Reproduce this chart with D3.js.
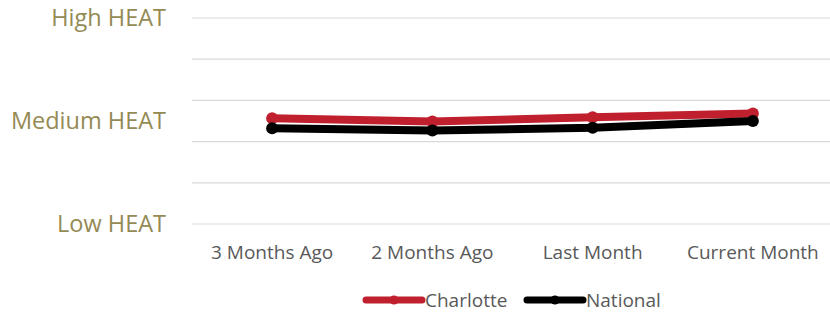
<!DOCTYPE html>
<meta charset="utf-8">
<style>
body { margin: 0; background: #fff; }
text { font-family: "Open Sans", sans-serif; }
.ylab { fill: #948a54; font-size: 23.5px; }
.xlab { fill: #595959; font-size: 19px; }
.leg { fill: #595959; font-size: 19px; }
</style>
<body>
<script src="https://d3js.org/d3.v7.min.js"></script>
<script>
var months = ["3 Months Ago", "2 Months Ago", "Last Month", "Current Month"];
var charlotte = [51.3, 49.8, 51.8, 53.7];
var national = [46.5, 45.4, 46.7, 50.0];
var gridTicks = [0, 20, 40, 60, 80, 100];
var heatTicks = [0, 50, 100];
var heatLabels = ["Low HEAT", "Medium HEAT", "High HEAT"];

var series = [
  {name: "Charlotte", values: charlotte, color: "#c0202e"},
  {name: "National", values: national, color: "#000000"}
];

var svg = d3.select("body").append("svg").attr("width", 830).attr("height", 312);

var x = d3.scaleBand().domain(months).range([192, 833]);
var y = d3.scaleLinear().domain([0, 100]).range([224, 18]);

svg.append("g").selectAll("line").data(gridTicks).enter().append("line")
  .attr("x1", 192).attr("x2", 830)
  .attr("y1", d => y(d)).attr("y2", d => y(d))
  .attr("stroke", "#d9d9d9").attr("stroke-width", 1.2);

svg.append("g").selectAll("text").data(heatTicks).enter().append("text")
  .attr("class", "ylab")
  .attr("x", 166).attr("y", d => y(d))
  .attr("dy", "0.35em").attr("text-anchor", "end")
  .text((d, i) => heatLabels[i]);

svg.append("g").selectAll("text").data(months).enter().append("text")
  .attr("class", "xlab")
  .attr("x", d => x(d) + x.bandwidth() / 2).attr("y", 252)
  .attr("dy", "0.35em").attr("text-anchor", "middle")
  .text(d => d);

var line = d3.line()
  .x((d, i) => x(months[i]) + x.bandwidth() / 2)
  .y(d => y(d));

series.forEach(function(s) {
  var g = svg.append("g");
  g.append("path").datum(s.values)
    .attr("d", line).attr("fill", "none")
    .attr("stroke", s.color).attr("stroke-width", 8)
    .attr("stroke-linejoin", "round");
  g.selectAll("circle").data(s.values).enter().append("circle")
    .attr("cx", (d, i) => x(months[i]) + x.bandwidth() / 2)
    .attr("cy", d => y(d)).attr("r", 6)
    .attr("fill", s.color);
});

// legend
var legX = [366, 527];
series.forEach(function(s, i) {
  var g = svg.append("g").attr("transform", "translate(" + legX[i] + ",300)");
  g.append("line").attr("x1", 0).attr("x2", 56).attr("y1", 0).attr("y2", 0)
    .attr("stroke", s.color).attr("stroke-width", 7).attr("stroke-linecap", "round");
  g.append("circle").attr("cx", 28).attr("cy", 0).attr("r", 4.5).attr("fill", s.color);
  g.append("text").attr("class", "leg").attr("x", 59).attr("y", 0)
    .attr("dy", "0.35em").text(s.name);
});
</script>
</body>
